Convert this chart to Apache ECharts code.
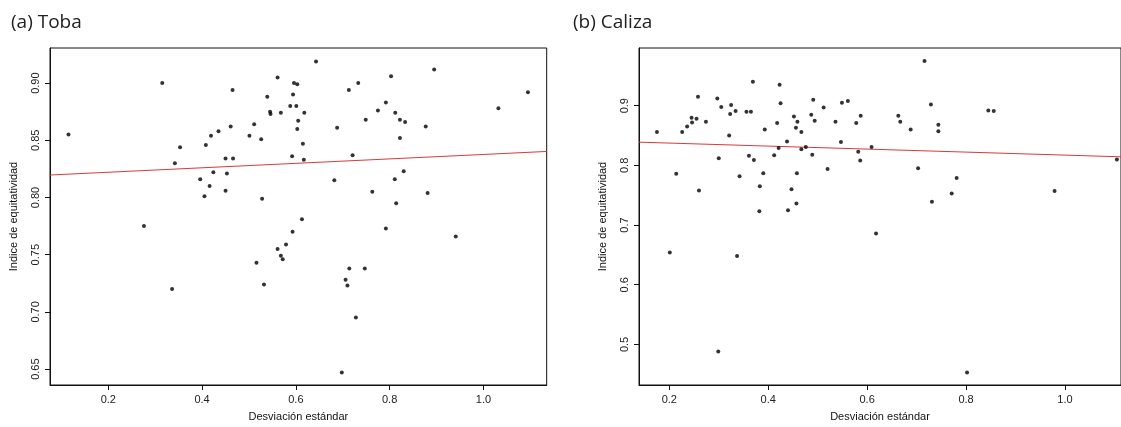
<!DOCTYPE html>
<html>
<head>
<meta charset="utf-8">
<script src="https://cdn.jsdelivr.net/npm/echarts@6/dist/echarts.min.js"></script>
<style>
html,body{margin:0;padding:0;background:#fff;}
#c{width:1121px;height:427px;}
</style>
</head>
<body>
<div id="c"></div>
<script>
// ---- data ----
const panelTitles = ['(a) Toba', '(b) Caliza'];
const xAxisName = 'Desviación estándar';
const yAxisName = 'Indice de equitatividad';

const tobaPoints = [
  [0.115,0.855],[0.315,0.900],[0.276,0.775],[0.342,0.830],[0.353,0.844],[0.396,0.816],
  [0.405,0.801],[0.408,0.846],[0.416,0.810],[0.419,0.854],[0.424,0.822],[0.435,0.858],
  [0.450,0.834],[0.450,0.806],[0.453,0.821],[0.461,0.862],[0.465,0.894],[0.466,0.834],
  [0.501,0.854],[0.511,0.864],[0.526,0.851],[0.528,0.799],[0.539,0.888],[0.545,0.875],
  [0.546,0.873],[0.561,0.905],[0.568,0.874],[0.588,0.880],[0.592,0.836],[0.593,0.770],
  [0.594,0.890],[0.596,0.900],[0.603,0.899],[0.601,0.880],[0.605,0.867],[0.603,0.860],
  [0.643,0.919],[0.618,0.874],[0.615,0.847],[0.617,0.833],[0.688,0.861],[0.713,0.894],
  [0.733,0.900],[0.721,0.837],[0.682,0.815],[0.749,0.868],[0.775,0.876],[0.792,0.883],
  [0.803,0.906],[0.812,0.874],[0.822,0.868],[0.833,0.866],[0.822,0.852],[0.877,0.862],
  [0.895,0.912],[1.032,0.878],[1.095,0.892],[0.830,0.823],[0.811,0.816],[0.763,0.805],
  [0.881,0.804],[0.814,0.795],[0.613,0.781],[0.792,0.773],[0.941,0.766],[0.336,0.720],
  [0.516,0.743],[0.532,0.724],[0.561,0.755],[0.568,0.749],[0.572,0.746],[0.579,0.759],
  [0.714,0.738],[0.747,0.738],[0.706,0.728],[0.710,0.723],[0.728,0.695],[0.698,0.647]
];

const calizaPoints = [
  [0.175,0.856],[0.214,0.786],[0.226,0.856],[0.236,0.865],[0.245,0.880],[0.246,0.872],
  [0.255,0.878],[0.258,0.915],[0.260,0.758],[0.274,0.873],[0.297,0.912],[0.300,0.812],
  [0.305,0.898],[0.321,0.850],[0.323,0.886],[0.325,0.901],[0.334,0.891],[0.342,0.782],
  [0.356,0.890],[0.365,0.890],[0.361,0.816],[0.369,0.940],[0.371,0.809],[0.383,0.765],
  [0.382,0.723],[0.390,0.787],[0.393,0.860],[0.412,0.817],[0.418,0.871],[0.423,0.935],
  [0.425,0.904],[0.421,0.829],[0.438,0.840],[0.440,0.725],[0.447,0.760],[0.452,0.882],
  [0.456,0.863],[0.459,0.873],[0.458,0.787],[0.457,0.736],[0.467,0.856],[0.467,0.827],
  [0.476,0.831],[0.487,0.885],[0.489,0.818],[0.491,0.910],[0.494,0.875],[0.512,0.897],
  [0.520,0.794],[0.536,0.873],[0.547,0.839],[0.549,0.905],[0.561,0.908],[0.578,0.871],
  [0.587,0.883],[0.582,0.823],[0.586,0.808],[0.609,0.831],[0.618,0.686],[0.663,0.883],
  [0.667,0.873],[0.688,0.860],[0.703,0.795],[0.716,0.975],[0.729,0.902],[0.731,0.739],
  [0.744,0.868],[0.744,0.857],[0.771,0.753],[0.781,0.779],[0.845,0.892],[0.856,0.891],
  [0.979,0.757],[1.105,0.810],[0.201,0.654],[0.337,0.648],[0.299,0.488],[0.802,0.453]
];

// regression fits: [intercept, slope]
const tobaFit = [0.8182, 0.01944];
const calizaFit = [0.8424, -0.0252];

// tick labels
const tobaXTicks = [0.2, 0.4, 0.6, 0.8, 1.0];
const tobaYTicks = [0.65, 0.70, 0.75, 0.80, 0.85, 0.90];
const calizaXTicks = [0.2, 0.4, 0.6, 0.8, 1.0];
const calizaYTicks = [0.5, 0.6, 0.7, 0.8, 0.9];

// axis ranges
const tobaXRange = [0.0756, 1.135];
const tobaYRange = [0.6361, 0.9307];
const calizaXRange = [0.1387, 1.1133];
const calizaYRange = [0.432, 0.9967];

// ---- chart ----
const chart = echarts.init(document.getElementById('c'), null, {renderer: 'canvas'});
const labelFont = 'Liberation Sans, Arial, sans-serif';
const titleFont = '"Open Sans", Lato, sans-serif';

function fitLine(fit, xr) {
  return [[xr[0], fit[0] + fit[1] * xr[0]], [xr[1], fit[0] + fit[1] * xr[1]]];
}

function xAxisCfg(gi, range, ticks) {
  return {
    type: 'value', gridIndex: gi, min: range[0], max: range[1],
    name: xAxisName, nameLocation: 'middle', nameGap: 26,
    nameTextStyle: {fontFamily: labelFont, fontSize: 11, color: '#111'},
    axisLine: {show: true, onZero: false, lineStyle: {color: '#111', width: 1}},
    axisTick: {show: true, length: 5, customValues: ticks, lineStyle: {color: '#111'}},
    axisLabel: {customValues: ticks, margin: 9, fontFamily: labelFont, fontSize: 11, color: '#222',
      formatter: v => v.toFixed(1)},
    splitLine: {show: false}
  };
}
function yAxisCfg(gi, range, ticks, dec, gap) {
  return {
    type: 'value', gridIndex: gi, min: range[0], max: range[1],
    name: yAxisName, nameLocation: 'middle', nameGap: gap, nameRotate: 90,
    nameTextStyle: {fontFamily: labelFont, fontSize: 11, color: '#111'},
    axisLine: {show: true, onZero: false, lineStyle: {color: '#111', width: 1}},
    axisTick: {show: true, length: 5, customValues: ticks, lineStyle: {color: '#111'}},
    axisLabel: {customValues: ticks, rotate: 90, margin: 9, fontFamily: labelFont, fontSize: 11, color: '#222',
      formatter: v => v.toFixed(dec)},
    splitLine: {show: false}
  };
}

const option = {
  backgroundColor: '#fff',
  animation: false,
  title: [
    {text: panelTitles[0], left: 6, top: 8, textStyle: {fontFamily: titleFont, fontSize: 19, fontWeight: 'normal', color: '#222'}},
    {text: panelTitles[1], left: 568, top: 8, textStyle: {fontFamily: titleFont, fontSize: 19, fontWeight: 'normal', color: '#222'}}
  ],
  grid: [
    {left: 50, top: 48, width: 496.7, height: 338.7, show: true, borderColor: '#111', borderWidth: 1, backgroundColor: 'transparent'},
    {left: 639, top: 48, width: 482, height: 338.7, show: true, borderColor: '#111', borderWidth: 1, backgroundColor: 'transparent'}
  ],
  xAxis: [
    xAxisCfg(0, tobaXRange, tobaXTicks),
    xAxisCfg(1, calizaXRange, calizaXTicks)
  ],
  yAxis: [
    yAxisCfg(0, tobaYRange, tobaYTicks, 2, 31),
    yAxisCfg(1, calizaYRange, calizaYTicks, 1, 31)
  ],
  series: [
    {type: 'line', xAxisIndex: 0, yAxisIndex: 0, data: fitLine(tobaFit, tobaXRange), symbol: 'none',
      lineStyle: {color: '#d93a3a', width: 1}, silent: true, z: 2},
    {type: 'line', xAxisIndex: 1, yAxisIndex: 1, data: fitLine(calizaFit, calizaXRange), symbol: 'none',
      lineStyle: {color: '#d93a3a', width: 1}, silent: true, z: 2},
    {type: 'scatter', xAxisIndex: 0, yAxisIndex: 0, data: tobaPoints, symbol: 'circle', symbolSize: 4,
      itemStyle: {color: '#000'}, z: 3},
    {type: 'scatter', xAxisIndex: 1, yAxisIndex: 1, data: calizaPoints, symbol: 'circle', symbolSize: 4,
      itemStyle: {color: '#000'}, z: 3}
  ]
};
chart.setOption(option);
</script>
</body>
</html>
